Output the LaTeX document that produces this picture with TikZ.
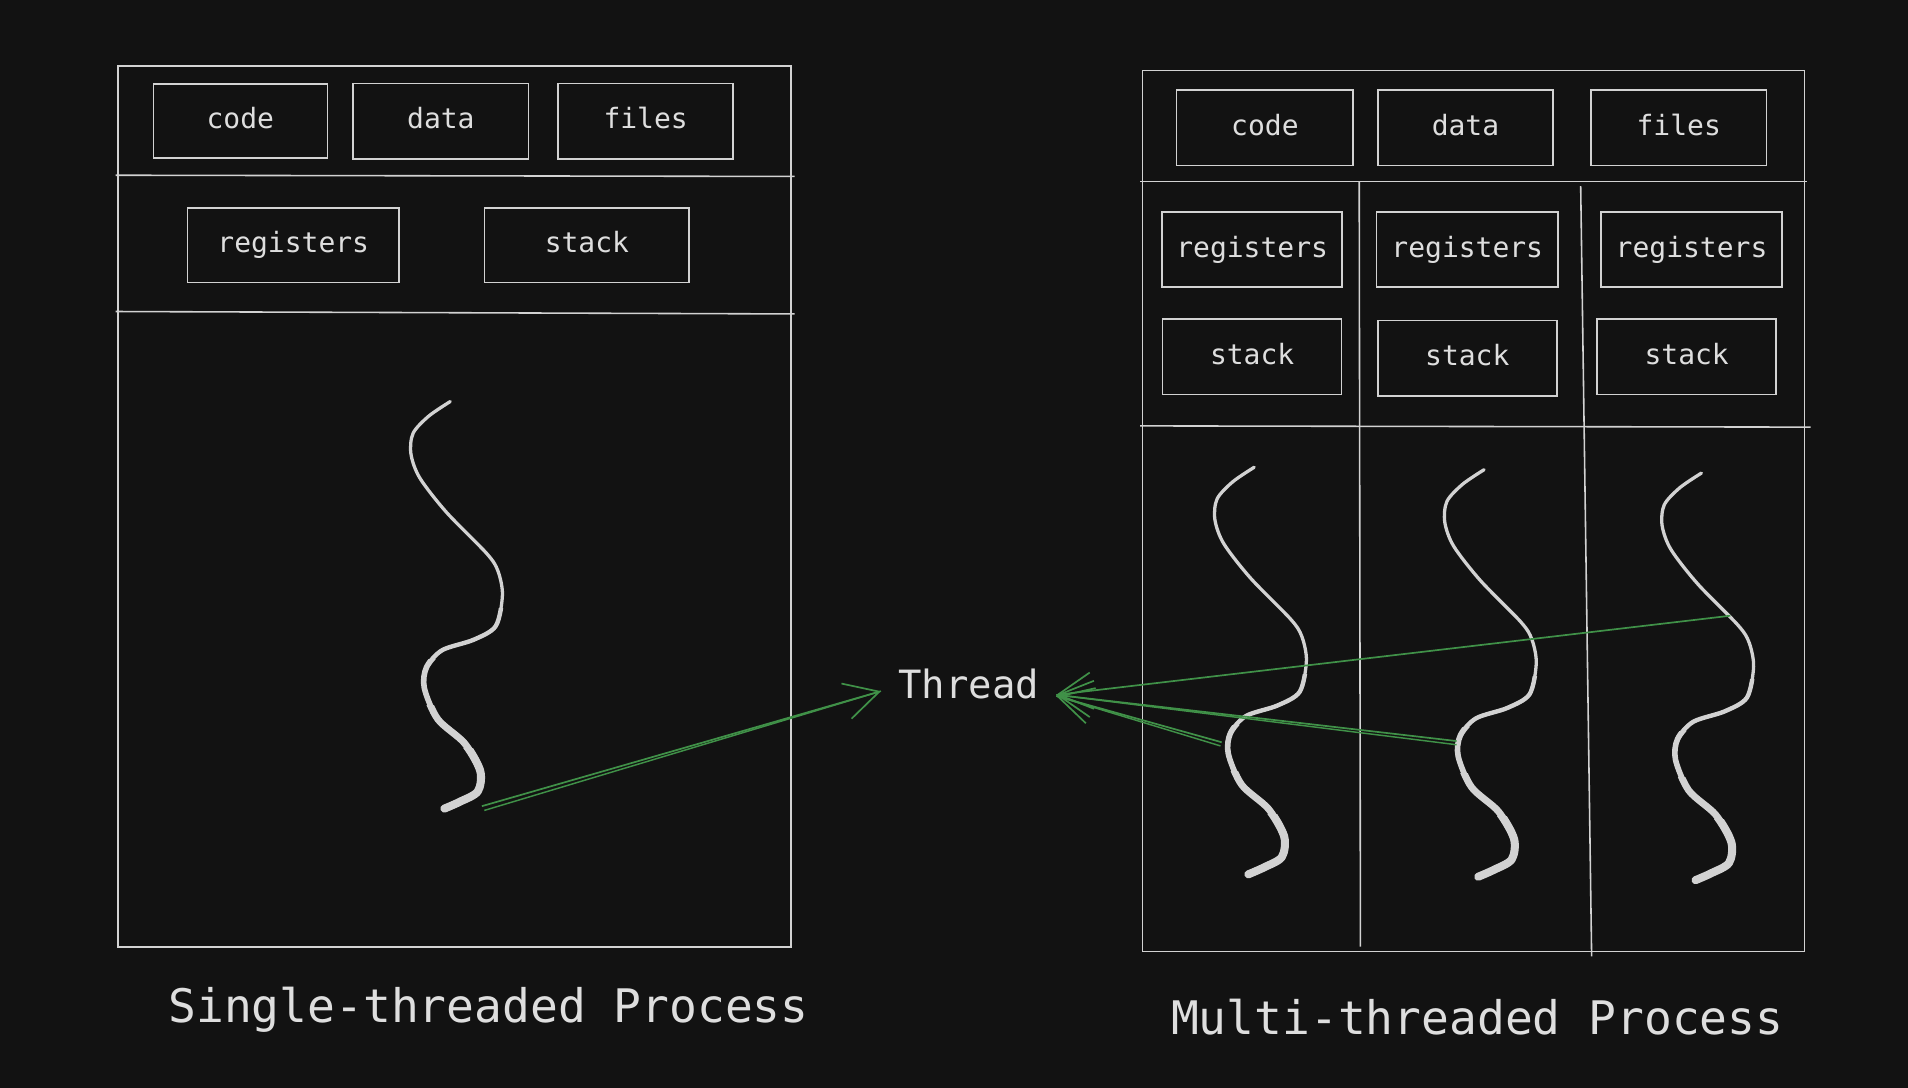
\documentclass[tikz,border=0pt]{standalone}
\usepackage{fontspec}
\newfontfamily\sketchfont{DejaVu Sans Mono}
\usepackage{xcolor}
\usepackage{tikz}
\usetikzlibrary{arrows.meta,positioning}
\definecolor{bg}{HTML}{121212}
\definecolor{ink}{HTML}{D2D2D2}
\definecolor{txt}{HTML}{DEDEDE}
\definecolor{grn}{RGB}{64,145,72}

\begin{document}
\begin{tikzpicture}[
  x=1pt, y=-1pt,
  frame/.style={draw=ink, line width=1.3pt},
  box/.style={draw=ink, line width=1.3pt, inner sep=0pt, text=txt,
    font=\sketchfont\fontsize{23}{28}\selectfont,
    text height=18.4pt, text depth=5.9pt},
  cell/.style={box, minimum width=144pt, minimum height=62pt},
  heading/.style={text=txt, font=\sketchfont\fontsize{38}{44}\selectfont},
  thr/.style={draw=ink, line cap=round, line join=round},
  arr/.style={draw=grn, line width=1.4pt, -{Straight Barb[length=28pt,width=30pt]}},
  twin/.style={draw=grn, line width=1.2pt},
  squiggle/.pic={
    % thicker towards the lower end
    \foreach \w/\from in {2.7/-10, 3.6/170, 4.6/212, 5.7/250, 6.6/285} {
      \begin{scope}
        \clip (-80,\from) rectangle (80,350);
        \draw[thr, line width=\w pt] plot[smooth] coordinates {(0,0) (-17.6,11.9) (-30.5,26) (-32.3,43) (-25,62.8) (-3,91.1) (30.1,125) (39.2,139.2) (42.9,159) (37.4,184.5) (19.1,195.8) (-6.6,204.3) (-19.5,218.4) (-21.3,235.4) (-10.3,260.9) (11.7,280.7) (24.6,303.3) (22.7,320.3) (8.1,328.8) (-4.8,334.5)};
      \end{scope}
    }
  }
]
\fill[bg] (0,0) rectangle (1568,894);

% single-threaded process
\draw[frame] (97,54) rectangle (650,778);
\draw[frame] (95,144) -- (653,145);
\draw[frame] (95,256) -- (653,258);

\node[cell, minimum width=143pt, minimum height=61pt] (lcode) at (197.5,99.5) {code};
\node[cell, right=20pt of lcode] (ldata) {data};
\node[cell, right=23pt of ldata] (lfiles) {files};
\node[box, minimum width=174pt, minimum height=61pt] (lregs) at (241,201.5) {registers};
\node[box, minimum width=168pt, minimum height=61pt, right=69pt of lregs] (lstack) {stack};

\pic at (370,330) {squiggle};

% multi-threaded process
\draw[frame] (939,58) rectangle (1483,782);
\draw[frame] (937,149) -- (1485,149);
\draw[frame] (937,350) -- (1488,351);
\draw[frame] (1117,149) -- (1118,778);
\draw[frame] (1299,153) -- (1308,786);

\node[cell, minimum width=145pt] (rcode) at (1039.5,105) {code};
\node[cell, right=19pt of rcode] (rdata) {data};
\node[cell, right=30pt of rdata] (rfiles) {files};
\node[cell, minimum width=148pt] (rregs1) at (1029,205) {registers};
\node[cell, minimum width=149pt, right=27pt of rregs1] (rregs2) {registers};
\node[cell, minimum width=149pt, right=34pt of rregs2] (rregs3) {registers};
\node[cell, minimum width=147pt, below=25pt of rregs1] (rstack1) {stack};
\node[cell, minimum width=147pt, below=26pt of rregs2] (rstack2) {stack};
\node[cell, minimum width=147pt, below=25pt of rregs3, xshift=-4pt] (rstack3) {stack};

\pic at (1030.7,384) {squiggle};
\pic at (1219.6,386) {squiggle};
\pic at (1398.2,388.8) {squiggle};

% captions
\node[heading, anchor=base] (single) at (401.5,840) {Single-threaded Process};
\node[heading, anchor=base] (multi) at (1214,850) {Multi-threaded Process};

% thread label and pointers
\node[text=txt, font=\sketchfont\fontsize{32}{38}\selectfont, inner xsep=14pt] (thread) at (796,562) {Thread};

\coordinate (lt) at (396,662.5);
\coordinate (lt2) at (398,666);
\coordinate (rt1) at (1004,610);
\coordinate (rt1b) at (1003,613);
\coordinate (rt2) at (1197,609);
\coordinate (rt2b) at (1197,612);
\coordinate (rt3) at (1422,506);

\draw[arr] (lt) -- ([yshift=-6pt]thread.west);
\draw[twin] (lt2) -- ([yshift=-6pt]thread.west);
\draw[arr] (rt3) -- ([yshift=-9pt]thread.east);
\draw[arr] (rt2) -- ([yshift=-9pt]thread.east);
\draw[twin] (rt2b) -- ([yshift=-9pt]thread.east);
\draw[arr] (rt1) -- ([yshift=-10pt]thread.east);
\draw[twin] (rt1b) -- ([yshift=-10pt]thread.east);

\end{tikzpicture}
\end{document}
